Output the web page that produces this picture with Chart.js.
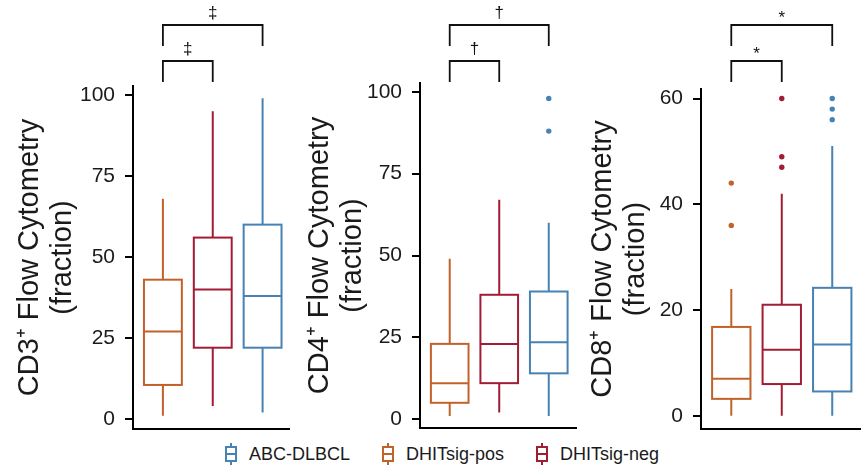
<!DOCTYPE html>
<html>
<head>
<meta charset="utf-8">
<script src="https://cdn.jsdelivr.net/npm/chart.js@4.4.1/dist/chart.umd.min.js"></script>
<style>
  body { margin: 0; background: #fff; }
  #wrap { position: relative; width: 864px; height: 467px; overflow: hidden; font-family: "Liberation Sans", Arial, sans-serif; }
  .panel { position: absolute; top: 0; }
  #legend { position: absolute; left: 225px; top: 443px; display: flex; align-items: center; gap: 32px; font-size: 18px; color: #1a1a1a; }
  .item { display: flex; align-items: center; gap: 12px; }
  .item svg { display: block; }
</style>
</head>
<body>
<div id="wrap">
  <canvas id="cd3Chart" class="panel" width="290" height="440" style="left:0"></canvas>
  <canvas id="cd4Chart" class="panel" width="290" height="440" style="left:290px"></canvas>
  <canvas id="cd8Chart" class="panel" width="284" height="440" style="left:580px"></canvas>
  <div id="legend"></div>
</div>
<script>
// groups in plot order (left to right)
const GROUPS = ["DHITsig-pos", "DHITsig-neg", "ABC-DLBCL"];
const LEGEND_ORDER = ["ABC-DLBCL", "DHITsig-pos", "DHITsig-neg"];
const GROUP_COLORS = { "DHITsig-pos": "#c2622b", "DHITsig-neg": "#a31c35", "ABC-DLBCL": "#4682b4" };

// CD3+ panel
const cd3Min = [1, 4, 2];
const cd3Q1 = [10.5, 22, 22];
const cd3Median = [27, 40, 38];
const cd3Q3 = [43, 56, 60];
const cd3Max = [68, 95, 99];
const cd3Outliers = [[], [], []];
const cd3Ticks = [0, 25, 50, 75, 100];

// CD4+ panel
const cd4Min = [1, 2, 1];
const cd4Q1 = [5, 11, 14];
const cd4Median = [11, 23, 23.5];
const cd4Q3 = [23, 38, 39];
const cd4Max = [49, 67, 60];
const cd4Outliers = [[], [], [88, 98]];
const cd4Ticks = [0, 25, 50, 75, 100];

// CD8+ panel
const cd8Min = [0, 0, 0];
const cd8Q1 = [3.2, 6, 4.6];
const cd8Median = [7, 12.5, 13.5];
const cd8Q3 = [16.8, 21, 24.2];
const cd8Max = [24, 42, 51];
const cd8Outliers = [[36, 44], [47, 49, 60], [56, 58, 60]];
const cd8Ticks = [0, 20, 40, 60];

// significance brackets: [from group, to group, symbol]
const cd3Brackets = [[1, 3, "\u2021"], [1, 2, "\u2021"]];
const cd4Brackets = [[1, 3, "\u2020"], [1, 2, "\u2020"]];
const cd8Brackets = [[1, 3, "*"], [1, 2, "*"]];

const FONT = "'Liberation Sans', Arial, sans-serif";

const boxPlotPlugin = {
  id: "boxPlot",
  beforeDatasetsDraw(chart, args, opts) {
    const { ctx, scales: { x, y } } = chart;
    const s = opts.stats;
    ctx.save();
    ctx.lineWidth = 2;
    GROUPS.forEach((g, i) => {
      const cx = x.getPixelForValue(i + 1);
      const half = x.getPixelForValue(i + 1 + 0.38) - cx;
      const yMin = y.getPixelForValue(s.min[i]);
      const yQ1 = y.getPixelForValue(s.q1[i]);
      const yMed = y.getPixelForValue(s.median[i]);
      const yQ3 = y.getPixelForValue(s.q3[i]);
      const yMax = y.getPixelForValue(s.max[i]);
      ctx.strokeStyle = GROUP_COLORS[g];
      ctx.beginPath();
      ctx.moveTo(cx, yMin); ctx.lineTo(cx, yQ1);
      ctx.moveTo(cx, yQ3); ctx.lineTo(cx, yMax);
      ctx.stroke();
      ctx.strokeRect(cx - half, yQ3, half * 2, yQ1 - yQ3);
      ctx.beginPath();
      ctx.moveTo(cx - half, yMed); ctx.lineTo(cx + half, yMed);
      ctx.stroke();
    });
    ctx.restore();
  }
};

const bracketPlugin = {
  id: "brackets",
  afterDraw(chart, args, opts) {
    const { ctx, scales: { x } } = chart;
    const tops = [25, 61];
    ctx.save();
    ctx.strokeStyle = "#111";
    ctx.fillStyle = "#111";
    ctx.lineWidth = 1.8;
    ctx.textAlign = "center";
    ctx.textBaseline = "middle";
    ctx.font = "17px " + FONT;
    opts.list.forEach((b, k) => {
      const x1 = x.getPixelForValue(b[0]);
      const x2 = x.getPixelForValue(b[1]);
      const top = tops[k];
      ctx.beginPath();
      ctx.moveTo(x1, top + 21); ctx.lineTo(x1, top); ctx.lineTo(x2, top); ctx.lineTo(x2, top + 21);
      ctx.stroke();
      const ly = b[2] === "*" ? top - 7 : top - 12;
      ctx.fillText(b[2], (x1 + x2) / 2, ly);
    });
    ctx.restore();
  }
};

function outlierPoints(outliers) {
  const pts = [];
  outliers.forEach((list, i) => list.forEach(v => pts.push({ x: i + 1, y: v, g: GROUPS[i] })));
  return pts;
}

function makePanel(id, p) {
  const pts = outlierPoints(p.outliers);
  return new Chart(document.getElementById(id), {
    type: "scatter",
    data: {
      datasets: [{
        data: pts,
        pointRadius: 2.7,
        pointBorderWidth: 0,
        pointBackgroundColor: pts.map(d => GROUP_COLORS[d.g])
      }]
    },
    options: {
      responsive: false,
      animation: false,
      layout: { padding: { top: p.top, right: p.right, left: 0, bottom: 0 } },
      plugins: {
        legend: { display: false },
        tooltip: { enabled: false },
        boxPlot: { stats: p.stats },
        brackets: { list: p.brackets }
      },
      scales: {
        x: {
          type: "linear",
          min: 0.4,
          max: 3.55,
          ticks: { display: false },
          grid: { display: false },
          border: { color: "#000", width: 2 },
          afterFit: s => { s.height = p.xAxisH; s.paddingLeft = 0; s.paddingRight = 0; }
        },
        y: {
          min: p.min,
          max: p.max,
          afterBuildTicks: s => { s.ticks = p.ticks.map(v => ({ value: v })); },
          afterFit: s => { s.width = p.yAxisW; s.paddingTop = 0; s.paddingBottom = 0; },
          ticks: { font: { size: 21, family: FONT }, color: "#1a1a1a", padding: 10 },
          grid: { drawOnChartArea: false, tickLength: 8, lineWidth: 2, color: "#000" },
          border: { color: "#000", width: 2 },
          title: {
            display: true,
            text: [p.title, "(fraction)"],
            color: "#1a1a1a",
            font: { size: 29, family: FONT, lineHeight: 1.12 },
            padding: { top: p.titlePad, bottom: 0 }
          }
        }
      }
    },
    plugins: [boxPlotPlugin, bracketPlugin]
  });
}

makePanel("cd3Chart", {
  title: "CD3\u207A Flow Cytometry",
  stats: { min: cd3Min, q1: cd3Q1, median: cd3Median, q3: cd3Q3, max: cd3Max },
  outliers: cd3Outliers, ticks: cd3Ticks, brackets: cd3Brackets,
  min: -3.1, max: 102.8, top: 86, right: 0, xAxisH: 11, yAxisW: 133, titlePad: 14
});
makePanel("cd4Chart", {
  title: "CD4\u207A Flow Cytometry",
  stats: { min: cd4Min, q1: cd4Q1, median: cd4Median, q3: cd4Q3, max: cd4Max },
  outliers: cd4Outliers, ticks: cd4Ticks, brackets: cd4Brackets,
  min: -2.7, max: 102.7, top: 83, right: 2, xAxisH: 12, yAxisW: 130, titlePad: 14
});
makePanel("cd8Chart", {
  title: "CD8\u207A Flow Cytometry",
  stats: { min: cd8Min, q1: cd8Q1, median: cd8Median, q3: cd8Q3, max: cd8Max },
  outliers: cd8Outliers, ticks: cd8Ticks, brackets: cd8Brackets,
  min: -2.5, max: 61.8, top: 89, right: 4, xAxisH: 11, yAxisW: 121, titlePad: 7
});

// legend with small box glyphs
const legend = document.getElementById("legend");
LEGEND_ORDER.forEach(g => {
  const c = GROUP_COLORS[g];
  const item = document.createElement("div");
  item.className = "item";
  item.innerHTML =
    '<svg width="12" height="22" viewBox="0 0 12 22">' +
    '<line x1="6" y1="0" x2="6" y2="22" stroke="' + c + '" stroke-width="2"/>' +
    '<rect x="1" y="4" width="10" height="14" fill="#fff" stroke="' + c + '" stroke-width="2"/>' +
    '<line x1="1" y1="11" x2="11" y2="11" stroke="' + c + '" stroke-width="2"/>' +
    '</svg><span>' + g + '</span>';
  legend.appendChild(item);
});
</script>
</body>
</html>
